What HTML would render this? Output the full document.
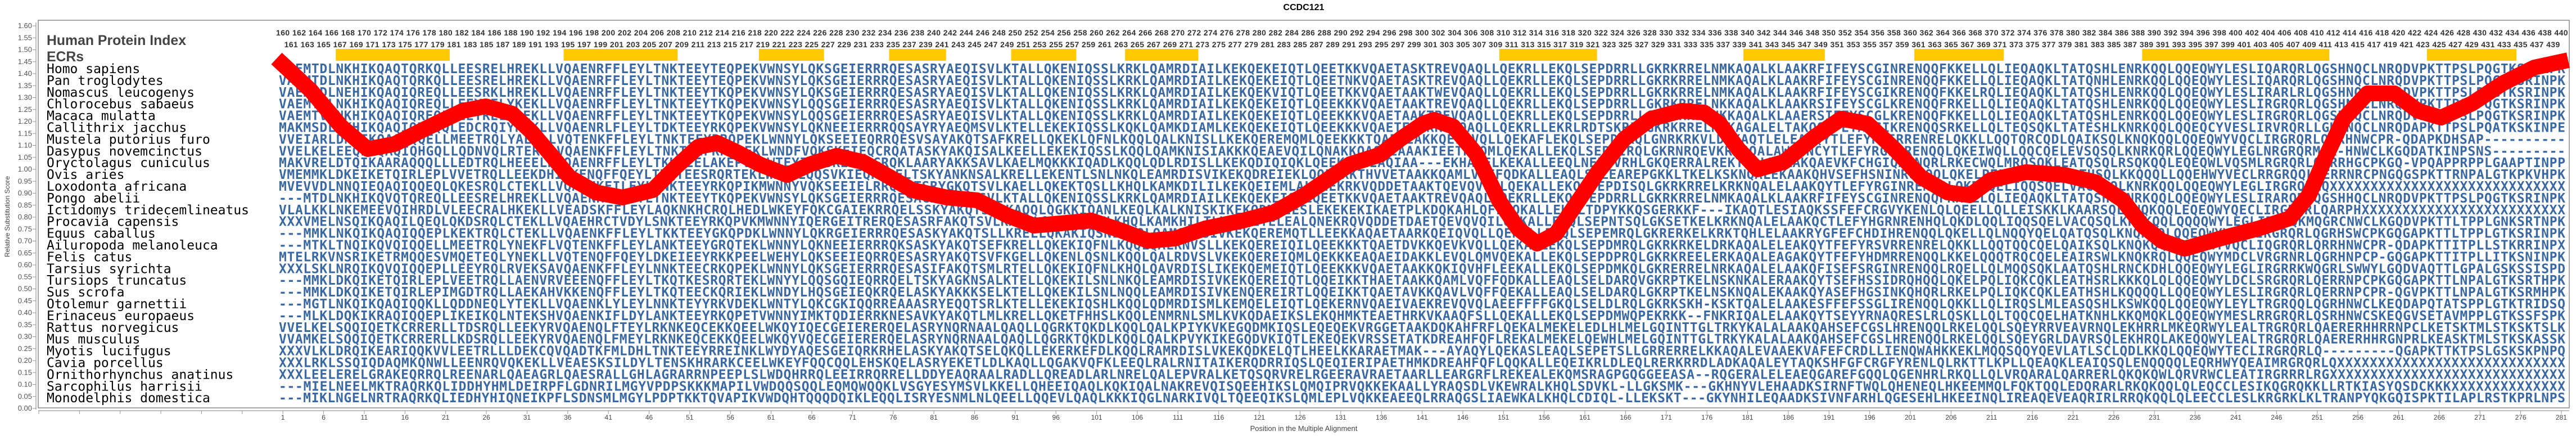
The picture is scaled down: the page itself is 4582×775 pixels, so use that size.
<!DOCTYPE html>
<html><head><meta charset="utf-8"><style>
html,body{margin:0;padding:0;background:#fff;}
svg{display:block;}
.sp{font-family:"DejaVu Sans Mono","Liberation Mono",monospace;font-size:23px;fill:#000;}
.sq{font-family:"DejaVu Sans Mono","Liberation Mono",monospace;font-size:23px;font-weight:bold;fill:#3a68a2;}
.yl{font-family:"Liberation Sans",sans-serif;font-size:13px;fill:#555;text-anchor:end;}
.xl{font-family:"Liberation Sans",sans-serif;font-size:12px;fill:#444;text-anchor:middle;}
.nm{font-family:"Liberation Sans",sans-serif;font-size:14px;font-weight:bold;fill:#333;}
</style></head><body>
<svg width="4582" height="775" viewBox="0 0 4582 775" xmlns="http://www.w3.org/2000/svg">
<rect width="4582" height="775" fill="#fff"/>
<text x="2319" y="18" font-family="Liberation Sans,sans-serif" font-size="16" font-weight="bold" text-anchor="middle" fill="#000">CCDC121</text>
<rect x="68" y="36" width="4502" height="689" fill="none" stroke="#888" stroke-width="1.5"/>
<line x1="64" y1="40" x2="64" y2="728" stroke="#aaa" stroke-width="1.5"/>
<line x1="68" y1="730" x2="4570" y2="730" stroke="#aaa" stroke-width="1.5"/>
<line x1="60" y1="46" x2="60" y2="727" stroke="#999" stroke-width="5" stroke-dasharray="1 20.25" transform="rotate(90 60 46) translate(0 0)" style="display:none"/>
<path d="M58 46h6M58 67.25h6M58 88.5h6M58 109.75h6M58 131h6M58 152.25h6M58 173.5h6M58 194.75h6M58 216h6M58 237.25h6M58 258.5h6M58 279.75h6M58 301h6M58 322.25h6M58 343.5h6M58 364.75h6M58 386h6M58 407.25h6M58 428.5h6M58 449.75h6M58 471h6M58 492.25h6M58 513.5h6M58 534.75h6M58 556h6M58 577.25h6M58 598.5h6M58 619.75h6M58 641h6M58 662.25h6M58 683.5h6M58 704.75h6M58 726h6" stroke="#999" stroke-width="1"/>
<line x1="68.5" y1="733" x2="4570" y2="733" stroke="#999" stroke-width="6" stroke-dasharray="1 71.37"/>
<g class="yl">
<text x="57" y="50">1.60</text><text x="57" y="71.25">1.55</text><text x="57" y="92.5">1.50</text><text x="57" y="113.75">1.45</text><text x="57" y="135">1.40</text><text x="57" y="156.25">1.35</text><text x="57" y="177.5">1.30</text><text x="57" y="198.75">1.25</text><text x="57" y="220">1.20</text><text x="57" y="241.25">1.15</text><text x="57" y="262.5">1.10</text><text x="57" y="283.75">1.05</text><text x="57" y="305">1.00</text><text x="57" y="326.25">0.95</text><text x="57" y="347.5">0.90</text><text x="57" y="368.75">0.85</text><text x="57" y="390">0.80</text><text x="57" y="411.25">0.75</text><text x="57" y="432.5">0.70</text><text x="57" y="453.75">0.65</text><text x="57" y="475">0.60</text><text x="57" y="496.25">0.55</text><text x="57" y="517.5">0.50</text><text x="57" y="538.75">0.45</text><text x="57" y="560">0.40</text><text x="57" y="581.25">0.35</text><text x="57" y="602.5">0.30</text><text x="57" y="623.75">0.25</text><text x="57" y="645">0.20</text><text x="57" y="666.25">0.15</text><text x="57" y="687.5">0.10</text><text x="57" y="708.75">0.05</text><text x="57" y="730">0.00</text>
</g>
<text transform="translate(17 385) rotate(-90)" font-family="Liberation Sans,sans-serif" font-size="12" text-anchor="middle" fill="#444">Relative Substitution Score</text>
<text x="2319" y="766" font-family="Liberation Sans,sans-serif" font-size="13" text-anchor="middle" fill="#444">Position in the Multiple Alignment</text>
<g class="xl">
<text x="503.2" y="746">1</text><text x="575.6" y="746">6</text><text x="647.9" y="746">11</text><text x="720.3" y="746">16</text><text x="792.7" y="746">21</text><text x="865.1" y="746">26</text><text x="937.4" y="746">31</text><text x="1009.8" y="746">36</text><text x="1082.2" y="746">41</text><text x="1154.5" y="746">46</text><text x="1226.9" y="746">51</text><text x="1299.3" y="746">56</text><text x="1371.6" y="746">61</text><text x="1444" y="746">66</text><text x="1516.4" y="746">71</text><text x="1588.8" y="746">76</text><text x="1661.1" y="746">81</text><text x="1733.5" y="746">86</text><text x="1805.9" y="746">91</text><text x="1878.2" y="746">96</text><text x="1950.6" y="746">101</text><text x="2023" y="746">106</text><text x="2095.3" y="746">111</text><text x="2167.7" y="746">116</text><text x="2240.1" y="746">121</text><text x="2312.5" y="746">126</text><text x="2384.8" y="746">131</text><text x="2457.2" y="746">136</text><text x="2529.6" y="746">141</text><text x="2601.9" y="746">146</text><text x="2674.3" y="746">151</text><text x="2746.7" y="746">156</text><text x="2819" y="746">161</text><text x="2891.4" y="746">166</text><text x="2963.8" y="746">171</text><text x="3036.2" y="746">176</text><text x="3108.5" y="746">181</text><text x="3180.9" y="746">186</text><text x="3253.3" y="746">191</text><text x="3325.6" y="746">196</text><text x="3398" y="746">201</text><text x="3470.4" y="746">206</text><text x="3542.7" y="746">211</text><text x="3615.1" y="746">216</text><text x="3687.5" y="746">221</text><text x="3759.9" y="746">226</text><text x="3832.2" y="746">231</text><text x="3904.6" y="746">236</text><text x="3977" y="746">241</text><text x="4049.3" y="746">246</text><text x="4121.7" y="746">251</text><text x="4194.1" y="746">256</text><text x="4266.4" y="746">261</text><text x="4338.8" y="746">266</text><text x="4411.2" y="746">271</text><text x="4483.6" y="746">276</text><text x="4555.9" y="746">281</text>
</g>
<text x="83" y="80" font-family="Liberation Sans,sans-serif" font-size="25" font-weight="bold" fill="#444" textLength="248" lengthAdjust="spacingAndGlyphs">Human Protein Index</text>
<text x="83" y="109" font-family="Liberation Sans,sans-serif" font-size="25" font-weight="bold" fill="#444" textLength="66" lengthAdjust="spacingAndGlyphs">ECRs</text>
<text class="nm" x="491" y="63" textLength="4076.6" lengthAdjust="spacing">160 162 164 166 168 170 172 174 176 178 180 182 184 186 188 190 192 194 196 198 200 202 204 206 208 210 212 214 216 218 220 222 224 226 228 230 232 234 236 238 240 242 244 246 248 250 252 254 256 258 260 262 264 266 268 270 272 274 276 278 280 282 284 286 288 290 292 294 296 298 300 302 304 306 308 310 312 314 316 318 320 322 324 326 328 330 332 334 336 338 340 342 344 346 348 350 352 354 356 358 360 362 364 366 368 370 372 374 376 378 380 382 384 386 388 390 392 394 396 398 400 402 404 406 408 410 412 414 416 418 420 422 424 426 428 430 432 434 436 438 440</text>
<text class="nm" x="505.6" y="84" textLength="4047.7" lengthAdjust="spacing">161 163 165 167 169 171 173 175 177 179 181 183 185 187 189 191 193 195 197 199 201 203 205 207 209 211 213 215 217 219 221 223 225 227 229 231 233 235 237 239 241 243 245 247 249 251 253 255 257 259 261 263 265 267 269 271 273 275 277 279 281 283 285 287 289 291 293 295 297 299 301 303 305 307 309 311 313 315 317 319 321 323 325 327 329 331 333 335 337 339 341 343 345 347 349 351 353 355 357 359 361 363 365 367 369 371 373 375 377 379 381 383 385 387 389 391 393 395 397 399 401 403 405 407 409 411 413 415 417 419 421 423 425 427 429 431 433 435 437 439</text>
<g fill="#ffc800">
<rect x="597.3" y="87" width="202.6" height="21"/><rect x="1002.6" y="87" width="202.6" height="21"/><rect x="1349.9" y="87" width="115.8" height="21"/><rect x="1581.5" y="87" width="101.3" height="21"/><rect x="1798.6" y="87" width="115.8" height="21"/><rect x="2001.2" y="87" width="130.3" height="21"/><rect x="2667" y="87" width="173.7" height="21"/><rect x="3101.1" y="87" width="144.7" height="21"/><rect x="3405.1" y="87" width="159.2" height="21"/><rect x="3810.3" y="87" width="332.9" height="21"/><rect x="4316.9" y="87" width="159.2" height="21"/>
</g>
<g class="sp">
<text x="83" y="130">Homo sapiens</text>
<text x="83" y="150.9">Pan troglodytes</text>
<text x="83" y="171.8">Nomascus leucogenys</text>
<text x="83" y="192.7">Chlorocebus sabaeus</text>
<text x="83" y="213.6">Macaca mulatta</text>
<text x="83" y="234.5">Callithrix jacchus</text>
<text x="83" y="255.4">Mustela putorius furo</text>
<text x="83" y="276.3">Dasypus novemcinctus</text>
<text x="83" y="297.2">Oryctolagus cuniculus</text>
<text x="83" y="318.1">Ovis aries</text>
<text x="83" y="339">Loxodonta africana</text>
<text x="83" y="359.9">Pongo abelii</text>
<text x="83" y="380.8">Ictidomys tridecemlineatus</text>
<text x="83" y="401.7">Procavia capensis</text>
<text x="83" y="422.6">Equus caballus</text>
<text x="83" y="443.5">Ailuropoda melanoleuca</text>
<text x="83" y="464.4">Felis catus</text>
<text x="83" y="485.3">Tarsius syrichta</text>
<text x="83" y="506.2">Tursiops truncatus</text>
<text x="83" y="527.1">Sus scrofa</text>
<text x="83" y="548">Otolemur garnettii</text>
<text x="83" y="568.9">Erinaceus europaeus</text>
<text x="83" y="589.8">Rattus norvegicus</text>
<text x="83" y="610.7">Mus musculus</text>
<text x="83" y="631.6">Myotis lucifugus</text>
<text x="83" y="652.5">Cavia porcellus</text>
<text x="83" y="673.4">Ornithorhynchus anatinus</text>
<text x="83" y="694.3">Sarcophilus harrisii</text>
<text x="83" y="715.2">Monodelphis domestica</text>
</g>
<g class="sq">
<text x="496" y="130" textLength="4067" lengthAdjust="spacing">VAEMTDLNKHIKQAQTQRKQLLEESRELHREKLLVQAENRFFLEYLTNKTEEYTEQPEKVWNSYLQKSGEIERRRQESASRYAEQISVLKTALLQKENIQSSLKRKLQAMRDIAILKEKQEKEIQTLQEETKKVQAETASKTREVQAQLLQEKRLLEKQLSEPDRRLLGKRKRRELNMKAQALKLAAKRFIFEYSCGINRENQQFKKELLQLIEQAQKLTATQSHLENRKQQLQQEQWYLESLIQARQRLQGSHNQCLNRQDVPKTTPSLPQGTKSRINPK</text>
<text x="496" y="150.9" textLength="4067" lengthAdjust="spacing">VAEMTDLNKHIKQAQTQRKQLLEESRELHREKLLVQAENRFFLEYLTNKTEEYTEQPEKVWNSYLQKSGEIERRRQESASRYAEQISVLKTALLQKENIQSSLKRKLQAMRDIAILKEKQEKEIQTLQEETNKVQAETASKTREVQAQLLQEKRLLEKQLSEPDRRLLGKRKRRELNMKAQALKLAAKRFIFEYSCGINRENQQFKKELLQLIEQAQKLTATQNHLENRKQQLQQEQWYLESLIQARQRLQGSHNQCLNRQDVPKTTPSLPQGTKSRINPK</text>
<text x="496" y="171.8" textLength="4067" lengthAdjust="spacing">VAEMTDLNEHIKQAQIQREQLLEESRKLHREKLLVQAENRFFLEYLTNKTEEYTKQPEKVWNSYLQKSGEIERRRQESASRYAEQISVLKTALLQKENIQSSLKRKLQAMRDIAILKEKQEKVIQTLQEETKKVQAETAAKTWEVQAQLLQEKRLLEKQLSEPDRRLLGKRKRRELNMKAQALKLAAKRFIFEYSCGIKRENQQFKKELRQLIEQAQKLTATQSHLENRKQQLQQEQWYLESLIRARLRLQGSHNQCLNRQDVPKTTPSLPQGTKSRINPK</text>
<text x="496" y="192.7" textLength="4067" lengthAdjust="spacing">VAEMTVLNKHIKQAQIQREQLLEEYRELYKEKLLVQAENRFFLEYLTNKTEEYTKQPEKVWNSYLQQSGEIERRRQESASRYAEQISVLKTALLQKENIQSSLKRKLQAMRDIAILKEKQEKEIQTLQEEKKKVQAETAAKTREVQAQLLQEKRLLEKQLSEPDRRLLGKRKRRELNKKAQALKLAAKRSIFEYSCGLKRENQQFRKELLQLIEQAQKLTATQSHLENRKQQLQQEQWYLESLIRGRQRLQGSHNQCLNRQDVPKTTPSLPQGTKSRINPK</text>
<text x="496" y="213.6" textLength="4067" lengthAdjust="spacing">VAEMTVLNKHIKQAQIQREQLLEEYRELYQEKLLVQAENRFFLEYLTNKTEEYTKQPEKVWNSYLQQSGEIERRRQESASRYAEQISVLKTALLQKENIQSSLKRKLQAMRDIAILKEKQEKEIQTLQEEKKKVQAETAAKTREVQAQLLQEKRLLEKQLSEPDRRLLGKRKRRELNKKAQALKLAAERSIFEYSCGLKRENQQFKKELLQLIEQAQKLTATQSHLENRKQQLQQEQWYLESLIRGRQRLQGSHNQCLNRQDVPKTTPSLPQGTKSRINPK</text>
<text x="496" y="234.5" textLength="4067" lengthAdjust="spacing">MAKMSDLNKHIKQAQIQRDQQLEDCRQIYHEKLLVQAENRLFLEYLTDKTEEYRKQPEKVWNSYLQKNEEIERRRQQSAYRYAEQMSVLKTELLEKEKIQSSLKQKLQAMKDIAMLKEKQEKEIQTLQEEKKKVQAETEAKKREVQAQLLQEKRLLEKRLRDTSKRLLGKRKRRELNMKAGALELTAKQSLFEYACGIKRENQQSRKELLQLTEQSQKLTATESHLKNRKQQLQQEQCYVESLIRVRQRLLGKHNQCLNRQDAPKTTPSLPQATKSKINPE</text>
<text x="496" y="255.4" textLength="4067" lengthAdjust="spacing">VVEIARLDNQIKQAQPQQELLMEETRQLYAEKLLVQTENKFFLEYLTNKTEEYRRQPEKLWNNYLQKSEEIEQRRQESVSAYAKQTSAFKRELLQKEKLQFNLKQQLQALKNISLLKEKQEREMQMLQEEKKKTQAETEAKKQELQVQLLQEKAFLEKQLSEPDMRQLGNRKRKVLDRKAQTLELEAKQYTLEFYRSIRRENRELQKKLLQQTQRCQDLQAIKSQLKNQKQQLQQEQWYVQCLIRGRQRLQRRHNWCPR-QDAPKDHSAP----------</text>
<text x="496" y="276.3" textLength="4067" lengthAdjust="spacing">VVELKELEEQIKQAQIQHGQLLQDNVQLRTERV-VQAENKFFLEYLTNKTEEFKRQPEKLWNDFVQKSKEIEQCRQATASKYAKQISALKEELLEKEKIQSSLKQQLQAMKNISIAKKKQEAEVQILQNAKKQAQTEAAAKIEETKTQMLQEKALLEKQLSEPDIRQLGKRNRQEVKRNSQALAWTTNCYTLEFYRGINRENQQLQKEIWQLLQQCQELEVSQSQLKNRKQRLQQEQWYLEGLNRGRQRMQR-HNWCLKGQDATKINPSNS---------</text>
<text x="496" y="297.2" textLength="4067" lengthAdjust="spacing">MAKVRELDTQIKAARAQQQLLLEDTRQLHEEELHFQAENRFFLEYLTKKTEELAKEPVKLWTEYIQESREIKRGRQKLAARYAKKSAVLKAELMQKKKIQADLKQQLQDLRDISLLKEKQDIQIQKLQEEKNKIEAQIAA---EKHAQFLKEKALLEEQLNEPDVRHLGKQERRALREKTQALRSAAKQAEVKFCHGIQAENQRLRKECWQLMRQSQKLEATQSQLRSQKQQLEQEQWLVQSMLRGRQRLQERRHGCPKGQ-VPQAPPRPPLGAAPTINPP</text>
<text x="496" y="318.1" textLength="4067" lengthAdjust="spacing">VMEMMKLDKEIKETQIRLEPLVVETRQLLEEKDHIQKENQFFQEYLTKQTEESRQRTEKLWNYYLQQSVKIEQRKQELTSKYANKNSALKRELLEKENTLSNLNKQLEAMRDISVIKEKQDREIEKLQQEIKKTHVVETAAKKQAMLVQFFQDKALLEAQLSELEAREPGKKLTKELKSKNQALEKAAKQHVSEFHSNINRQHQQLQKELPELVQKCHQLEDTHSQLKKQQQLLQQEHWYVECLRRGRQQLQERRNRCPNGQGSPKTTRNPALGTKPKVHPK</text>
<text x="496" y="339" textLength="4067" lengthAdjust="spacing">MVEVVDLNNQIEQAQIQQEQLQKESRQLCTEKLLVQAEHKFILEYLTNKTEEYRKQPIKMWNNYVQKSEEIELRRQEATSRYGKQTSVLKAELLQKEKTQSLLKHQLKAMKDILILKEKQEIEMLALQEEKRKVQDDETAAKTQEVQVQILQEKALLEKQLSEPDISQLGKRKRRELKRKNQALELAAKQYTLEFYRGINRENQQLQKDLQELIQQSQELVACQSQLKNRKQQLQQEQWYLEGLIRGRQRMQXXXXXXXXXXXXXXXXXXXXXXXXXXXXX</text>
<text x="496" y="359.9" textLength="4067" lengthAdjust="spacing">---MTDLNKHIKQVQTQREQLLEESRELHREKLLVQAENRFFLEYLTNKTEEYTKQPEKVWNSYLQKSGEIERRRQESACRYAEQISVLKTALLQKENIQSSLKRKLQAMRDIAILKEKQEKEIQTLQEETKKVQAETAAKTREVQAQLLQEKRLLEKQLSEPDRRLLGKRKRRELNMKAQALKLAAKRFIFEYSCGINRENQQFKKELLQLIEQAQKLTATQSHLENRKQQLQQEQWYLESLIRARQRLQGSHHQCLNRQDVPKTTPSLPQGTKSRINPK</text>
<text x="496" y="380.8" textLength="4067" lengthAdjust="spacing">VLALKKLNKEMEEVQIHRDLVLEECRALHKEKLLVEADSKFFLEYLAQKNKHCRQLHEDLWKEYFQKCGAIEKRRQELSSKYAKQTSDLKAQQLQGKKIQANLKEQLKALKNISKIKEKQDMRIESLEKEKEKIKAETPLKDQKAHLQFLQQKALLEKQLTDPYKKQSGERKKF---IKAQTLESIAQKSSFEFCRGVYKENLQLQEELLQLLEISKKLKAARSQLENQKQQLEQEQWYQECLIRGKQRLQARPHXXXXXXXXXXXXXXXXXXXXXXXXX</text>
<text x="496" y="401.7" textLength="4067" lengthAdjust="spacing">XXXVMELNSQIKQAQILQEQLQKDSRQLCTEKLLVQAEHRCTVDYLSNKTEEYRKQPVKMWNNYIQERGEITRERQESASRFAKQTSVLKAELLQKGKTQSVLKHQLKAMKHILTLKEKQETELEALQNEKRQVQDDETDAETQEVQVQILQQKALLEKQLSEPNTSQLGKSETKELKRKNQALELAAKQCTLEFYHGRNRENHQLQKDLQQLIQQSQELVACQSQLKHRKQQLQQQQWYLEGLIRGRQKMQGRCNWCLKGQDVPKTTLTPPLGNKSRTNPK</text>
<text x="496" y="422.6" textLength="4067" lengthAdjust="spacing">---MMKLNKQIKQAQIQQEPLKEKTRQLCTEKLLVQAENKFFLEYLTKKTEEYGKQPDKLWNNYLQKRGEIERRRQESASKYAKQTSLLKRELLQKAKIQSNLKQQLQAMSNISIVKEKQEREMQTLLEEKKAQAETAARKQEIQVQLLQEKALLEQQLSEPEMRQLGKRERKELKRKTQHLELAAKRYGFEFCHDIHRENQQLQKELLQLNQQYQELQATQSQLKNQKQQLQQEQWYVECLIRGRQRLQGRHSWCPKGQGAPKTTLTPPLGTKSRINPK</text>
<text x="496" y="443.5" textLength="4067" lengthAdjust="spacing">---MTKLTNQIKQVQIQQELLMEETRQLYNEKFLVQTENKFFLEYLANKTEEYGRQTEKLWNNYLQKNEEIERRRQKSASKYAKQTSEFKRELLQKEKIQFNLKQQLQALRNVSLLKEKQEREIQILQEEKKKTQAETDVKKQEVKVQLLQEKAFLEKQLSEPDMRQLGKRKRKELDRKAQALELEAKQYTFEFYRSVRRENRELQKKLLQQTQQCQELQAIKSQLKNQKQQLQQEQWYVQCLIQGRQRLQRRHNWCPR-QDAPKTTITPLLSTKRRINPX</text>
<text x="496" y="464.4" textLength="4067" lengthAdjust="spacing">MTELRKVNSRIKETRMQQESVMQETEQLYNEKLLVQTENQFFQEYLDKEIEEYRKKPEELWEHYLQKSEEIEQRRQESASRYAKQTSVFKGELLQKENLQSNLKQQLQALRDVSLVKEKQEREIQMLQEKKKEAQAEIDAKKLEVQLQMVQEKALLEKQLSEPDPRQLGKRKREELERKAQALEAGAKQYTFEFYHDMRRENQQLKKELQQQTRQCQELEAIRSWLKNQKRQLQQEQWYMDCLVRGRNRLQGRHNPCP-GQGAPKTTITPLLITKSNINPK</text>
<text x="496" y="485.3" textLength="4067" lengthAdjust="spacing">XXXLSKLNRQIKQVQIQQEPLLEEYRQLRVEKSAVQAENKFFLEYLNNKTEECRKQPEKLWNNYLQKSGEIERRRQESASIFAKQTSMLRTELLQKEKIQFNLKHQLQAVRDISLIKEKQEMEIQTLQEEKKKVQAETAAKKQKIQVHFLEEKALLEKQLSEPDMKQLGKRERRELNRKAQALELAAKQFISEFSRGINRENQQLRQELLQLMQQSQKLAATQSHLRNCKDHLQQEQWYLEGLIRGRRKWQGRLSWWYLGQDVAQTTLGPALGSKSSISPD</text>
<text x="496" y="506.2" textLength="4067" lengthAdjust="spacing">---MMKLDKQIKETQIRLEPLVEETRQLLAENVRVEEENQFFLEYLTKQTKESRQRTEKLWNYYLQQSGQIEQRRQELTSKYAGKNSALKTELLQKEKILSNLNKQLEAMRDISIVKEKQEREIQTLQQEIKKTHAETAAKKQAMLVQFFQDKALLEAQLSELDARQVGKRPTKELNSKNKALERAAKQYTSEFHSSIDRQHQQLQKELPQLIQKCQKLEATHSRLKKKQLQLQQEQWYLDCLSRGRQRLQERRNPCPKGQGAPKTTLNPALGTKSRTHPK</text>
<text x="496" y="527.1" textLength="4067" lengthAdjust="spacing">---MMKLDKQIKETQIRLEPIMGDTRQLLAEKAHVKKENQFFLEYLTKQTEECKQRIEKLWNDYLHQSGEIEQKRQELASKYAKKKSELKTELLQKEKILSNLNQQLEAMRDISIVKENQEREIRTLQQEIKKTQAETAVKKQAVLVQFFQEKALLEAQLSELDARQLGKRPTKELNSKNQALEKAAKQYASEFHGSINKQHQRLRKELPQLIQKCQKLEATHSHLKQQQQLLQQEQWYLESLIRGRQRLQERRNPCPR-QGVPKTTLNPALGTKSRMHPK</text>
<text x="496" y="548" textLength="4067" lengthAdjust="spacing">---MGTLNKQIKQAQIQQKLLQDDNEQLYTEKLLVQAENKLYLEYLNNKTEYYRKVDEKLWNTYLQKCGKIQQRREAAASRYEQQTSRLKTELLEKEKIQSHLKQQLQDMRDISMLKEMQELEIQTLQEKERNVQAEIVAEKREVQVQLAEEFFFFGKQLSELDLRQLGKRKSKH-KSKTQALELAAKESFFEFSSGLIRENQQLQKKLLQLIRQSLMLEASQSHLKSWKQQLQQEQWYLEYLTRGRQQLQGRHNWCLKEQDAPQTATSPPLGTKTRIDSQ</text>
<text x="496" y="568.9" textLength="4067" lengthAdjust="spacing">---MLKLDQKIKRAQIQQEPLIKEIKQLNTEKSHVQAENKIFLDYLANKTEEYRKQPETVWNNYIMKTQDIERRKNESAVKYAKQTLMLKRELLQKETFHHSLKQQLENMRNLSMLKVKQDAEIKSLEKQHMKTEAETHRKVKAAQFSLLQEKALLEKQLSEPDMWQPEKRKK--FNKRIQALELAAKQYTSEYYRNAQRESLRLQSKLLQLTQQCQELHATKNHLKKQMQKLQQEQWYMESLRRGRQRLQSRHNWCSKEQGVSETAVMPPLGTKSSFSPK</text>
<text x="496" y="589.8" textLength="4067" lengthAdjust="spacing">VVELKELSQQIQETKCRRERLLTDSRQLLEEKYRVQAENQLFTEYLRKNKEQCEKKQEELWKQYIQECGEIERERQELASRYNQRNAALQAQLLQGRKTQKDLKQQLQALKPIYKVKEGQDMKIQSLEQEQEKVRGGETAAKDQKAHFRFLQEKALMEKELEDLHLMELGQINTTGLTRKYKALALAAKQAHSEFCGSLHRENQQLRKELQQLSQEYRRVEAVRNQLEKHRRLMKEQRWYLEALTRGRQRLQAERERHHRRNPCLKETSKTMLSTKSKTSLK</text>
<text x="496" y="610.7" textLength="4067" lengthAdjust="spacing">VVAMKELSQQIQETKCRRERLLKDSRQLLEEKYRVQAENQLFMEYLRKNKEQCEKKQEELWKQYVQECGEIERERQELASRYNQRNAALQAQLLQGRKTQKDLKQQLQALKPVYKIKEGQDVKIQTLEKEQEKVRSSETATKDREAHFQFLREKALMEKELQEWHLMELGQINTTGLTRKYKALALAAKQAHSEFCGSLHRENQQLRKELQQLSQEYGRLDAVRSQLEKHRQLAKEQQWYLEALTRGRQRLQAERERHHRGNPRLKEASKTMLSTKSKASSK</text>
<text x="496" y="631.6" textLength="4067" lengthAdjust="spacing">XXXVLKLDRQIKEARIQQKVVLEETRLLLDEKCQVQADTKFMLDHLTNKTEEYRREINKLWYDYAQESGEIQRKRHELASKYAKQTSELQKQLLEKERKEFDLKQQLRAMRDISLVKEKQDKELQTLHEELKKARAETMAK---AYAQYLQEKASLEAQLSEPETSLLGRRERRELKKAQALEVAAEKVAFEFCRDLLIENQWAHKKEKLMQQSQQYQEVLATLSCLQDLKKQLQQEQWYTECLIRGRQRLQ---------QGAPKTTKTPSLGSKSKPNPQ</text>
<text x="496" y="652.5" textLength="4067" lengthAdjust="spacing">XXXLRKLSSQIQDAQMKQNWLLEENRQVQKEKLLVEAESKSILDYLTENSKHRARKCEELWKEYFQQCQQLEHSKQELASRYEKETLDLKAQLLQGAKVQFKLEEQLRALRNITAIKERQDRRIQSLQEQIERIPAETHMKDREAHFQFLQQKALLEQEIKRLDLEQLRERKRRDLADKAQALEYTAQKSHFGFCRGFYRENLQLRKTTLKPLLQEAQKLEAIQSQLENQQQQLEQRHWYQEAIMRGRQRLQXXXXXXXXXXXXXXXXXXXXXXXXXXXX</text>
<text x="496" y="673.4" textLength="4067" lengthAdjust="spacing">XXXLEELERELGRAKEQRRQLREENARLQAEAGRLQAESRALLGHLAGRARRNPEEPLSLWDQHRRQLEEIRRQRRELLDDYEAQRAALRADLLQREADLARLNRELQALEPVRALKETQSQRVRELRGEERAVRAETAARLLEARGRFLREKEALEKQMSRAGPGQGGEEASA--RQGERALELEAEQGAREFGQQLQGENHRLRKQLLQLVRQARALQARRERLQKQKQWLQRVRWCLEATIRGRRRLRGXXXXXXXXXXXXXXXXXXXXXXXXXXXXX</text>
<text x="496" y="694.3" textLength="4067" lengthAdjust="spacing">---MIELNEELMKTRAQRKQLIDDHYHMLDEIRPFLGDNRILMGYVPDPSKKKMAPILVWDQQSQQLEQMQWQQKLVSGYESYMSVLKKELLQHEEIQAQLKQKIQALNAKREVQISQEEHIKSLQMQIPRVQKKEKAALLYRAQSDLVKEWRALKHQLSDVKL-LLGKSMK---GKHNYVLEHAADKSIRNFTWQLQHENEQLHKEEMMQLFQKTQQLEDQRARLRKQKQQLQLEQCCLESIKQGRQKKLLRTKIASYQSDCKKKXXXXXXXXXXXXXX</text>
<text x="496" y="715.2" textLength="4067" lengthAdjust="spacing">---MIKLNGELNRTRAQRKQLIEDHYHIQNEIKPFLSDNSMLMGYLPDPTKKTQVAPIKVWDQHTQQQDQIKLEQQLISRYESNMLNLQEELLQQEVLQAQLKKKIQGLNARKIVQLTQEEQIKSLQMLEPLVQKKEAEEQLRRAQGSLIAEWKALKHQLCDIQL-LLEKSKT---GKYNHILEQAADKSIVNFARHLQGESEHLHKEEINQLIREAQEVEAQRIRLRRQKQQLQLEECCLESLKRGRKLKLTRANPYQKGQISPKTILAPLRSTKPRLNPS</text>
</g>
<polyline fill="none" stroke="#ff0000" stroke-width="28" stroke-linejoin="round" stroke-linecap="butt" points="492,104 553,161 607,225 654,265 702,256 756,229 823,197 864,189 911,202 945,234 979,274 1013,315 1060,342 1107,351 1161,338 1202,297 1242,261 1276,254 1310,270 1351,292 1400,311 1441,292 1488,277 1535,288 1576,311 1623,338 1684,351 1738,356 1792,383 1839,401 1887,397 1941,392 1995,410 2042,428 2090,424 2144,406 2211,392 2265,378 2320,347 2360,320 2401,292 2455,275 2491,247 2531,220 2551,213 2585,225 2626,274 2666,356 2700,406 2734,433 2768,415 2802,365 2842,306 2889,247 2937,211 2991,197 3031,200 3059,220 3092,265 3126,301 3173,288 3228,243 3275,211 3322,220 3370,265 3417,315 3464,342 3504,347 3541,320 3604,306 3673,311 3728,324 3776,356 3811,401 3845,428 3886,442 3949,424 4018,406 4073,388 4107,347 4135,283 4169,211 4211,166 4259,166 4301,197 4342,209 4397,184 4452,148 4508,120 4568,107"/>
</svg>
</body></html>
